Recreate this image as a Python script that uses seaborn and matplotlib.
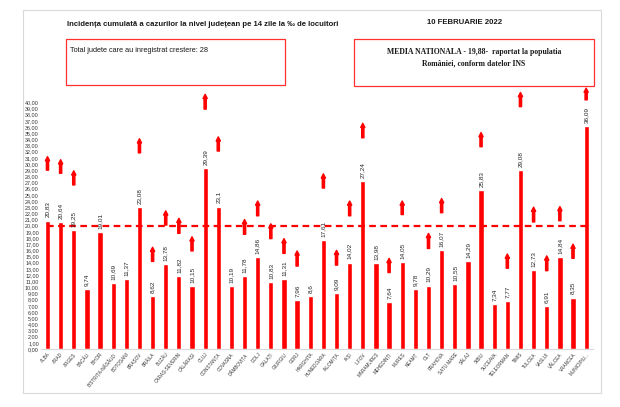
import seaborn as sns
import pandas as pd
import numpy as np
import matplotlib.pyplot as plt
from matplotlib.patches import Rectangle

counties = ['ALBA', 'ARAD', 'ARGEȘ', 'BACĂU', 'BIHOR', 'BISTRIȚA-NĂSĂUD', 'BOTOȘANI', 'BRAȘOV',
            'BRĂILA', 'BUZĂU', 'CARAȘ-SEVERIN', 'CĂLĂRAȘI', 'CLUJ', 'CONSTANȚA', 'COVASNA',
            'DÂMBOVIȚA', 'DOLJ', 'GALAȚI', 'GIURGIU', 'GORJ', 'HARGHITA', 'HUNEDOARA', 'IALOMIȚA',
            'IAȘI', 'ILFOV', 'MARAMUREȘ', 'MEHEDINȚI', 'MUREȘ', 'NEAMȚ', 'OLT', 'PRAHOVA',
            'SATU MARE', 'SĂLAJ', 'SIBIU', 'SUCEAVA', 'TELEORMAN', 'TIMIȘ', 'TULCEA', 'VASLUI',
            'VÂLCEA', 'VRANCEA', 'MUNICIPIU...']
incidence = [20.83, 20.64, 19.25, 9.74, 19.01, 10.69, 11.37, 23.08, 8.62, 13.78, 11.82, 10.15,
             29.39, 23.1, 10.19, 11.78, 14.86, 10.83, 11.31, 7.96, 8.6, 17.61, 9.09, 14.02,
             27.24, 13.98, 7.64, 14.05, 9.78, 10.29, 16.07, 10.55, 14.29, 25.83, 7.34, 7.77,
             29.08, 12.73, 6.91, 14.84, 8.35, 36.09]
# up-arrows drawn by hand in the original (bottom / top, nan = no arrow)
arrow_lo = [29.0, 28.5, 26.6, np.nan, np.nan, np.nan, np.nan, 31.8, 14.2, 20.1, 18.75, 15.9,
            38.9, 32.1, np.nan, 18.6, 21.6, 17.9, 15.5, 13.45, np.nan, 26.1, 13.6, 21.6,
            34.25, np.nan, 12.4, 21.8, np.nan, 16.3, 22.1, np.nan, np.nan, 32.8, np.nan, 13.1,
            39.3, 20.6, 12.7, 20.8, 14.7, 40.4]
arrow_hi = [31.2, 30.7, 28.9, np.nan, np.nan, np.nan, np.nan, 34.1, 16.5, 22.4, 21.2, 18.2,
            41.3, 34.4, np.nan, 21.0, 24.0, 20.3, 17.9, 15.9, np.nan, 28.4, 16.0, 24.0,
            36.6, np.nan, 14.7, 24.0, np.nan, 18.75, 24.4, np.nan, np.nan, 35.1, np.nan, 15.4,
            41.6, 23.0, 15.1, 23.1, 17.0, 42.3]
national_avg = 19.88

sns.set_style('white')
plt.rcParams['font.family'] = ['Liberation Sans', 'DejaVu Sans']

df = pd.DataFrame({'judet': counties, 'incidenta': incidence})

fig = plt.figure(figsize=(6.2, 4.07), dpi=100)
ax = fig.add_axes([0.066, 0.1425, 0.89, 0.644])

sns.barplot(data=df, x='judet', y='incidenta', color='#ff0000', saturation=1, width=0.4, ax=ax)

# value labels
for i, v in enumerate(incidence):
    ax.text(i, v + 0.5, str(v).replace('.', ','), rotation=90, ha='center', va='bottom',
            fontsize=4.6, color='#262626')

# arrows
for i, (lo, hi) in enumerate(zip(arrow_lo, arrow_hi)):
    if np.isnan(lo):
        continue
    ax.annotate('', xy=(i, hi), xytext=(i, lo),
                arrowprops=dict(arrowstyle='simple,head_length=0.6,head_width=0.6,tail_width=0.32',
                                color='#ff0000', shrinkA=0, shrinkB=0, mutation_scale=5),
                annotation_clip=False)

ax.hlines(national_avg, 0, len(counties) - 1, colors='#ff0000', linestyles=(0, (3, 2)), lw=1.6)

ax.set_xlim(-0.5, len(counties) - 0.5)
ax.set_ylim(0, 42.5)
ax.set_yticks(range(0, 41))
ax.set_yticklabels([f"{t:.2f}".replace('.', ',') for t in range(0, 41)])
ax.tick_params(axis='y', length=0, labelsize=3.9, pad=1.5, labelcolor='#333333')
ax.tick_params(axis='x', length=0, labelsize=3.3, pad=2, labelcolor='#333333')
plt.setp(ax.get_xticklabels(), rotation=50, ha='right', rotation_mode='anchor')
ax.set_xlabel('')
ax.set_ylabel('')
for s in ['top', 'right', 'left']:
    ax.spines[s].set_visible(False)
ax.spines['bottom'].set_color('#d9d9d9')
ax.spines['bottom'].set_linewidth(0.8)

W, H = 620, 407

def frame(x0, y0, x1, y1, color, lw):
    fig.add_artist(Rectangle((x0 / W, 1 - y1 / H), (x1 - x0) / W, (y1 - y0) / H,
                             transform=fig.transFigure, fill=False, ec=color, lw=lw))

frame(23, 10, 601, 393, '#d9d9d9', 0.8)
frame(66, 39, 285, 85, '#ff3030', 0.9)
frame(354, 39, 594, 86, '#ff3030', 0.9)

fig.text(67 / W, 1 - 24 / H, 'Incidența cumulată a cazurilor la nivel județean pe 14 zile la ‰ de locuitori',
         fontsize=5.6, fontweight='bold', va='center', ha='left', color='#1a1a1a')
fig.text(465 / W, 1 - 22 / H, '10 FEBRUARIE 2022', fontsize=5.6, fontweight='bold',
         va='center', ha='center', color='#1a1a1a')
fig.text(70 / W, 1 - 51 / H, 'Total judete care au inregistrat crestere: 28', fontsize=5.3,
         va='center', ha='left', color='#1a1a1a')
fig.text(474 / W, 1 - 52 / H, 'MEDIA NATIONALA - 19,88-  raportat la populatia', fontsize=5.6,
         fontweight='bold', family='Liberation Serif', va='center', ha='center', color='#1a1a1a')
fig.text(474 / W, 1 - 63 / H, 'României, conform datelor INS', fontsize=5.6,
         fontweight='bold', family='Liberation Serif', va='center', ha='center', color='#1a1a1a')

fig.savefig('out.png', dpi=100)
